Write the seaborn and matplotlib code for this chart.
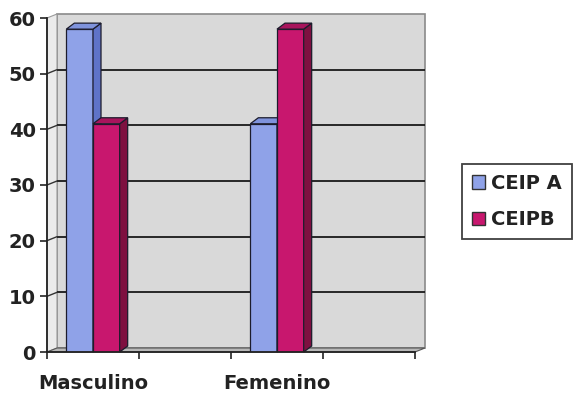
import matplotlib
matplotlib.use("Agg")
import matplotlib.pyplot as plt
from matplotlib.patches import Polygon, Rectangle
import pandas as pd
import seaborn as sns

# Data
categories = ["Masculino", "Femenino"]
slots = ["Masculino", " ", "Femenino", "  "]
schools = ["CEIP A", "CEIPB"]
ceip_a = [58, 41]
ceip_b = [41, 58]
y_ticks = [0, 10, 20, 30, 40, 50, 60]

df = pd.DataFrame({
    "genero": categories * 2,
    "centro": [schools[0]] * 2 + [schools[1]] * 2,
    "valor": ceip_a + ceip_b,
})

blue, red = "#8fa2e8", "#c8176e"
blue_side, red_side = "#5f73c8", "#7e1040"
blue_top, red_top = "#7f93dc", "#a8145c"

sns.set_theme(style="white")
plt.rcParams["font.family"] = ["DejaVu Sans"]
plt.rcParams["font.weight"] = "bold"

W, H = 573, 395
fig = plt.figure(figsize=(W / 100, H / 100), dpi=100)
fig.patch.set_facecolor("white")
ax = fig.add_axes([47 / W, 1 - 352 / H, 368 / W, 334 / H])
ax.set_facecolor("none")

sns.barplot(data=df, x="genero", y="valor", hue="centro", order=slots,
            hue_order=schools, palette=[blue, red], width=0.58, saturation=1,
            edgecolor="#1c1c2c", linewidth=0.9, legend=False, ax=ax)
ax.set_xlim(-0.5, 3.5)
ax.set_ylim(0, 60)

# pixel -> data conversion for the depth effect
p0 = ax.transData.transform((0, 0))
px_x = ax.transData.transform((1, 0))[0] - p0[0]
px_y = ax.transData.transform((0, 1))[1] - p0[1]
wdx, wdy = 10 / px_x, 4 / px_y     # back wall offset
bdx, bdy = 8 / px_x, 6 / px_y      # bar depth

x0a, x1a = -0.5, 3.5
# back wall
ax.add_patch(Polygon([(x0a + wdx, wdy), (x1a + wdx, wdy), (x1a + wdx, 60 + wdy),
                      (x0a + wdx, 60 + wdy)], closed=True, facecolor="#d9d9d9",
                     edgecolor="#8a8a8a", lw=1.2, zorder=0.1, clip_on=False))
# left side wall
ax.add_patch(Polygon([(x0a, 0), (x0a + wdx, wdy), (x0a + wdx, 60 + wdy), (x0a, 60)],
                     closed=True, facecolor="#ebebeb", edgecolor="#9a9a9a", lw=0.8,
                     zorder=0.2, clip_on=False))
# floor
ax.add_patch(Polygon([(x0a, 0), (x1a, 0), (x1a + wdx, wdy), (x0a + wdx, wdy)],
                     closed=True, facecolor="#b8b8b8", edgecolor="#555555", lw=0.8,
                     zorder=0.3, clip_on=False))
# gridlines on the back wall and side wall
for yv in y_ticks[1:-1]:
    ax.plot([x0a + wdx, x1a + wdx], [yv + wdy, yv + wdy], color="#1a1a1a", lw=1.3,
            zorder=0.5, clip_on=False, solid_capstyle="butt")
    ax.plot([x0a, x0a + wdx], [yv, yv + wdy], color="#333333", lw=1.0,
            zorder=0.5, clip_on=False)

# 3D faces for each bar
bars = [p for p in ax.patches if isinstance(p, Rectangle) and p.get_height() > 0
        and p.get_width() < 1]
for p in bars:
    x0, w, h = p.get_x(), p.get_width(), p.get_height()
    is_blue = abs(x0 + w) < 1e-6 or abs(x0 + w - 2) < 1e-6
    z = 2 if is_blue else 3
    side_c = blue_side if is_blue else red_side
    top_c = blue_top if is_blue else red_top
    p.set_zorder(z)
    ax.add_patch(Polygon([(x0 + w, 0), (x0 + w, h), (x0 + w + bdx, h + bdy),
                          (x0 + w + bdx, bdy)], closed=True, facecolor=side_c,
                         edgecolor="#1c1c2c", lw=0.9, zorder=z, clip_on=False))
    ax.add_patch(Polygon([(x0, h), (x0 + w, h), (x0 + w + bdx, h + bdy),
                          (x0 + bdx, h + bdy)], closed=True, facecolor=top_c,
                         edgecolor="#1c1c2c", lw=0.9, zorder=z, clip_on=False))

# axes
for s in ["top", "right"]:
    ax.spines[s].set_visible(False)
for s in ["left", "bottom"]:
    ax.spines[s].set_color("#222222")
    ax.spines[s].set_linewidth(1.3)
    ax.spines[s].set_zorder(4)
ax.set_yticks(y_ticks)
ax.set_yticklabels([str(v) for v in y_ticks])
ax.set_xticks([0, 2])
ax.set_xticklabels(categories)
ax.set_xticks([-0.5, 0.5, 1.5, 2.5, 3.5], minor=True)
ax.tick_params(axis="y", which="major", direction="out", length=5, width=1.2,
               color="#222222", pad=3, labelsize=14, labelcolor="#222222", left=True)
ax.tick_params(axis="x", which="major", length=0, pad=16, labelsize=14,
               labelcolor="#222222", bottom=True)
ax.tick_params(axis="x", which="minor", direction="out", length=5, width=1.2,
               color="#222222", bottom=True)
for lab in ax.get_xticklabels() + ax.get_yticklabels():
    lab.set_fontweight("bold")
ax.set_xlabel("")
ax.set_ylabel("")

handles = [Rectangle((0, 0), 1, 1, facecolor=c, edgecolor="#333333", lw=1)
           for c in (blue, red)]
leg = fig.legend(handles, schools, loc="upper left",
                 bbox_to_anchor=(462 / W, 1 - 164 / H), borderaxespad=0,
                 frameon=True, fancybox=False, edgecolor="#111111",
                 handlelength=0.7, handleheight=0.7, handletextpad=0.3,
                 borderpad=0.5, labelspacing=0.9,
                 prop={"size": 14, "weight": "bold"})
leg.get_frame().set_linewidth(1.3)
for t in leg.get_texts():
    t.set_color("#222222")

fig.savefig("out.png", dpi=100, facecolor="white")
